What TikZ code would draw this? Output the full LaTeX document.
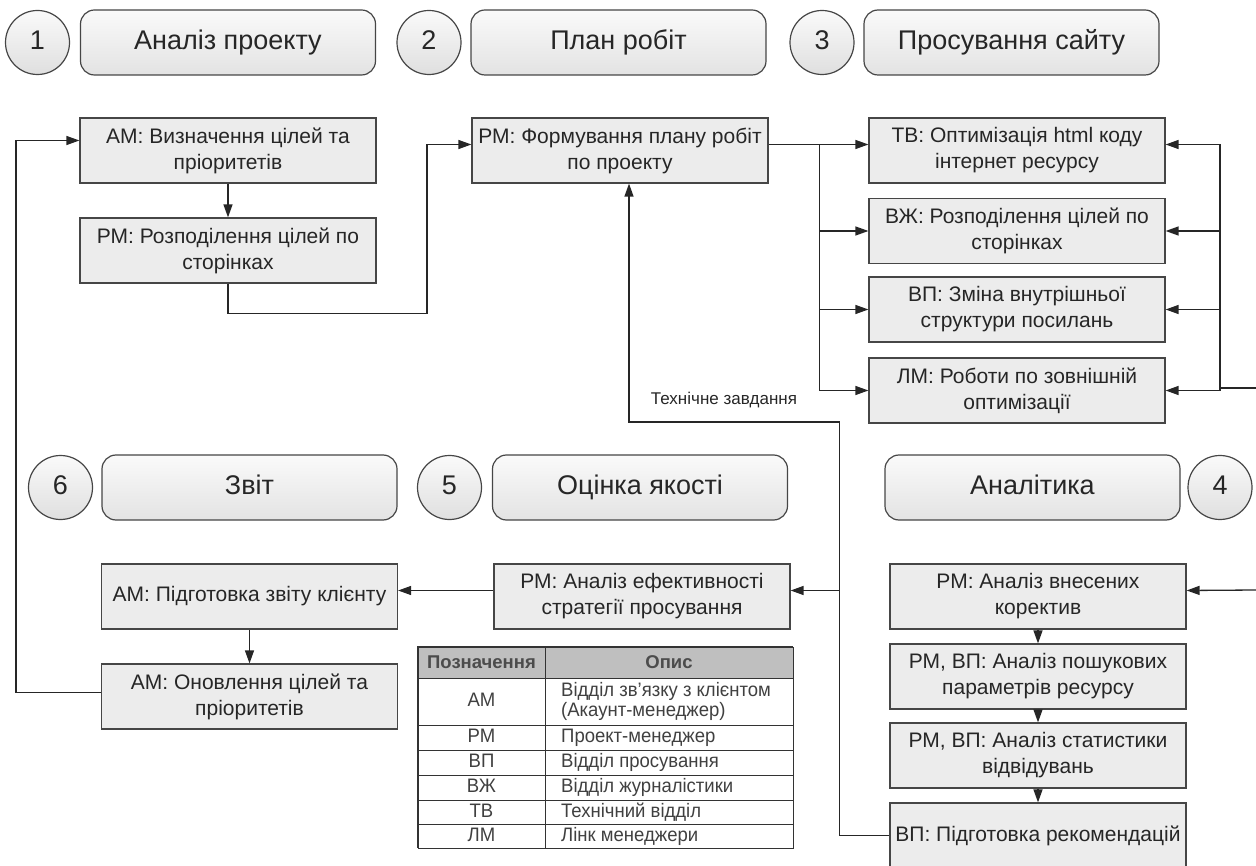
\documentclass[tikz,border=0pt]{standalone}
\usepackage{fontspec}
\setmainfont{Liberation Sans}
\newfontfamily\narrowfont[FakeStretch=0.95]{Liberation Sans}
\usetikzlibrary{arrows.meta}
\tikzset{
    task/.style={draw=gray!55!black, line width=1.2pt, fill=gray!15, minimum width=296pt, minimum height=65pt, inner sep=0pt, align=center, text=black!85, font=\fontsize{21}{26}\selectfont},
    stage/.style={draw=gray!55!black, line width=1.2pt, rounded corners=14pt, top color=gray!4, bottom color=gray!22, minimum width=295pt, minimum height=65pt, inner sep=0pt, text height=20pt, text depth=6pt, text=black!85, font=\fontsize{27}{30}\selectfont},
    num/.style={draw=gray!55!black, line width=1.2pt, circle, top color=gray!4, bottom color=gray!25, minimum size=64pt, inner sep=0pt, text height=20pt, text depth=6pt, text=black!85, font=\fontsize{27}{30}\selectfont},
    link/.style={line width=1.3pt, draw=black!85, -{Triangle[length=13pt,width=9pt]}},
    wire/.style={line width=1.3pt, draw=black!85},
    cell/.style={inner sep=0pt, text=black!75, align=left, text height=14pt, text depth=4pt, font=\narrowfont\fontsize{19.5}{20}\selectfont},
    head/.style={inner sep=0pt, text=black!70, font=\bfseries\fontsize{18.5}{20}\selectfont}
}
\begin{document}
\begin{tikzpicture}[x=1pt,y=-1pt]
            \useasboundingbox (0,0) rectangle (1256,866);
            \node[num] (n1) at (37.5,42.5) {1};
            \node[stage] (s1) at (228,42.5) {Аналіз проекту};
            \node[num] (n2) at (429,42.5) {2};
            \node[stage] (s2) at (618.5,42.5) {План робіт};
            \node[num] (n3) at (822,42.5) {3};
            \node[stage] (s3) at (1011.5,42.5) {Просування сайту};
            \node[num] (n6) at (60.5,487.5) {6};
            \node[stage] (s6) at (249.5,487.5) {Звіт};
            \node[num] (n5) at (449.5,487.5) {5};
            \node[stage] (s5) at (640,487.5) {Оцінка якості};
            \node[stage] (s4) at (1032.5,487.5) {Аналітика};
            \node[num] (n4) at (1220,487.5) {4};

            \node[task] (AMgoal) at (228,150.5) {АМ: Визначення цілей та\\пріоритетів};
            \node[task] (PMsplit) at (228,250.5) {РМ: Розподілення цілей по\\сторінках};
            \node[task] (PMplan) at (620,150.5) {РМ: Формування плану робіт\\по проекту};
            \node[task] (TV) at (1017,150.5) {ТВ: Оптимізація html коду\\інтернет ресурсу};
            \node[task] (VZh) at (1017,231) {ВЖ: Розподілення цілей по\\сторінках};
            \node[task] (VP) at (1017,309.5) {ВП: Зміна внутрішньої\\структури посилань};
            \node[task] (LM) at (1017,390.5) {ЛМ: Роботи по зовнішній\\оптимізації};
            \node[task] (Report) at (249.5,596.5) {АМ: Підготовка звіту клієнту};
            \node[task] (GoalsUpd) at (249.5,696.5) {АМ: Оновлення цілей та\\пріоритетів};
            \node[task] (Effect) at (642,596.5) {РМ: Аналіз ефективності\\стратегії просування};
            \node[task] (Correct) at (1038,596.5) {РМ: Аналіз внесених\\коректив};
            \node[task] (Search) at (1038,676.5) {РМ, ВП: Аналіз пошукових\\параметрів ресурсу};
            \node[task] (Stats) at (1038,755.5) {РМ, ВП: Аналіз статистики\\відвідувань};
            \node[task] (Recom) at (1038,835.5) {ВП: Підготовка рекомендацій};
            \node[font=\fontsize{17}{20}\selectfont, text=black!85] (tzlabel) at (724,400) {Технічне завдання};

            \coordinate (loopin) at (1256,388);
            \coordinate (loopout) at (1256,590);

            \draw[link] (AMgoal.south) -- (PMsplit.north);
            \draw[link] (PMsplit.south) -- ++(0,30) -- ++(199,0) |- ([yshift=6pt]PMplan.west);
            \draw[link] ([yshift=6pt]PMplan.east) -- ([yshift=6pt]TV.west);
            \path ([yshift=6pt]PMplan.east) -- ++(51,0) coordinate (bus);
            \foreach \n in {VZh,VP,LM}
                \draw[link] (bus) |- (\n.west);
            \draw[wire] (loopin) -- ++(-36,0) coordinate (rbus) -- ++(0,-243);
            \draw[link] (rbus) |- ([yshift=6pt]TV.east);
            \foreach \n in {VZh,VP,LM}
                \draw[link] (rbus) |- (\n.east);

            \draw[link] (loopout) -- ([yshift=6pt]Correct.east);
            \draw[link] (Correct.south) -- (Search.north);
            \draw[link] (Search.south) -- (Stats.north);
            \draw[link] (Stats.south) -- (Recom.north);
            \draw[link] (Recom.west) -- ++(-50,0) coordinate (tzfoot) -- ++(0,-413.5) -| ([xshift=9pt]PMplan.south);
            \draw[link] (tzfoot) |- ([yshift=6pt]Effect.east);
            \draw[link] ([yshift=6pt]Effect.west) -- ([yshift=6pt]Report.east);
            \draw[link] (Report.south) -- (GoalsUpd.north);
            \draw[link] ([yshift=4pt]GoalsUpd.west) -- ++(-85,0) |- ([yshift=10pt]AMgoal.west);

            \fill[gray!50] (418,647) rectangle (793,678);
            \draw[black!80, line width=0.8pt] (418,647) rectangle (793,848);
            \draw[black!80, line width=2pt] (418,848) -- (418,647) -- (793,647);
            \foreach \y in {678,725,750,775,800,824}
                \draw[black!80, line width=0.8pt] (418,\y) -- (793,\y);
            \draw[black!80, line width=0.8pt] (545,647) -- (545,848);
            \node[head] (hkey) at (481.5,662.5) {Позначення};
            \node[head] (hdesc) at (669,662.5) {Опис};
            \node[cell] (key0) at (481.5,701.5) {АМ};
            \node[cell, anchor=west, text height=, text depth=] (desc0) at (561,701.5) {Відділ зв’язку з клієнтом\\(Акаунт-менеджер)};
            \foreach \k/\d/\y [count=\i] in {РМ/Проект-менеджер/737.5, ВП/Відділ просування/762.5, ВЖ/Відділ журналістики/787.5, ТВ/Технічний відділ/812, ЛМ/Лінк менеджери/836}
            {
                \node[cell] (key\i) at (481.5,\y) {\k};
                \node[cell, anchor=west] (desc\i) at (561,\y) {\d};
            }
\end{tikzpicture}
\end{document}
